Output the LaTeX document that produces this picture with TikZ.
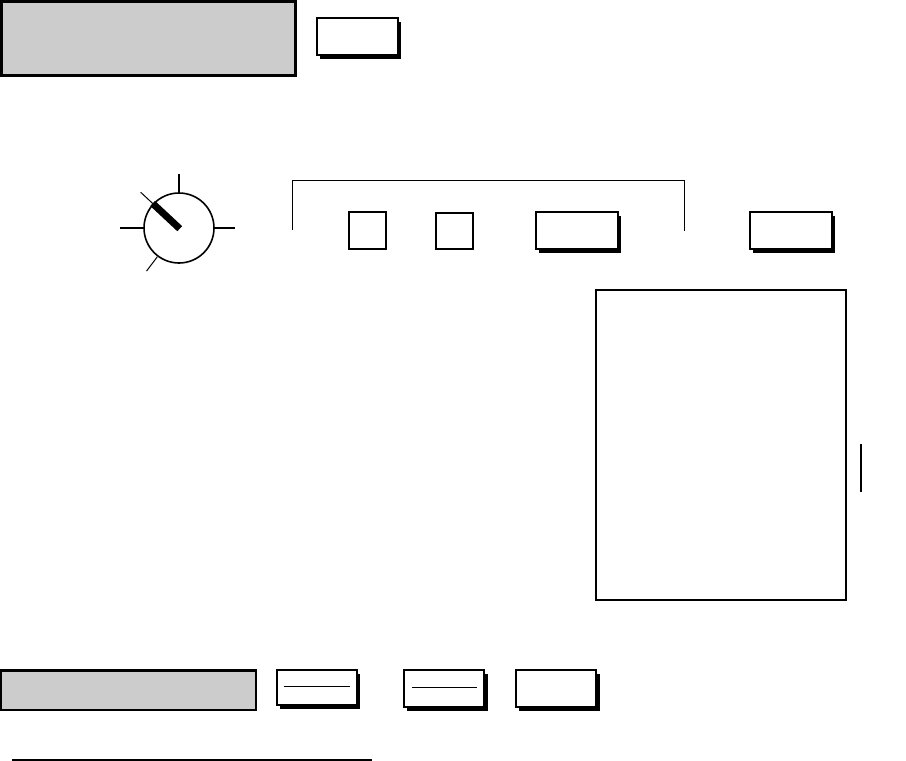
\documentclass[tikz,border=0pt]{standalone}
\usetikzlibrary{shadows,calc}
\definecolor{panelgray}{HTML}{CCCCCC}
\begin{document}
\begin{tikzpicture}[x=1pt,y=-1pt,
  graybox/.style={draw=black,fill=panelgray,line width=2.5pt,inner sep=0pt},
  plainbox/.style={draw=black,fill=white,line width=2pt,inner sep=0pt},
  shadowbox/.style={plainbox,drop shadow={shadow xshift=3.2pt,shadow yshift=-3.8pt,fill=black,opacity=1}},
  tick/.style={line width=2pt},
  thintick/.style={line width=1pt},
  frameline/.style={line width=1.2pt}]
\useasboundingbox (0,0) rectangle (906,761);
% top row
\node[graybox,line width=3pt,minimum width=294pt,minimum height=74pt] (topgray) at (148.5,38.5) {};
\node[shadowbox,minimum width=81pt,minimum height=37pt] (topbtn) at (357.5,36.5) {};
% dial
\node[circle,draw=black,line width=1.6pt,fill=white,minimum size=70pt,inner sep=0pt] (dial) at (179,228) {};
\draw[tick] ($(dial.center)+(90:35.5pt)$) -- ($(dial.center)+(90:54pt)$);
\draw[tick] ($(dial.center)+(180:35.5pt)$) -- ($(dial.center)+(180:59pt)$);
\draw[tick] ($(dial.center)+(0:35.5pt)$) -- ($(dial.center)+(0:56pt)$);
\draw[thintick] ($(dial.center)+(233:36pt)$) -- ($(dial.center)+(233:54pt)$);
\draw[thintick] ($(dial.center)+(137:35pt)$) -- ($(dial.center)+(137:52.5pt)$);
\draw[line width=7pt] ($(dial.center)+(137:-1pt)$) -- ($(dial.center)+(137:36pt)$);
% bracket
\coordinate (brL) at (292.5,230);
\coordinate (brR) at (684.5,231);
\draw[frameline] (brL) -- (292.5,180.5) -- (684.5,180.5) -- (brR);
% buttons in bracket
\node[plainbox,minimum width=37pt,minimum height=37pt] (sq1) at (367.5,230.5) {};
\node[plainbox,minimum width=37pt,minimum height=36pt] (sq2) at (454.5,231) {};
\node[shadowbox,minimum width=82.5pt,minimum height=37pt] (btn3) at (577,230.5) {};
\node[shadowbox,minimum width=82pt,minimum height=37pt] (btn4) at (790.5,230.7) {};
% big panel
\node[plainbox,minimum width=250.3pt,minimum height=310pt] (panel) at (720.85,445) {};
\coordinate (vtop) at (861,444);
\coordinate (vbot) at (861,492);
\draw[tick] (vtop) -- (vbot);
% bottom row
\node[graybox,minimum width=254.8pt,minimum height=39.3pt] (botgray) at (128.6,690.2) {};
\node[shadowbox,minimum width=80pt,minimum height=34.7pt] (btnA) at (316.7,687.7) {};
\node[shadowbox,minimum width=80.6pt,minimum height=36.4pt] (btnB) at (444,688.5) {};
\node[shadowbox,minimum width=80.6pt,minimum height=36.4pt] (btnC) at (556,688.5) {};
\draw[thintick] (283.7,686.7) -- (349.7,686.7);
\draw[thintick] (412.3,687) -- (476.7,687);
\draw[line width=1.3pt] (12.3,760) -- (371.7,760);
\end{tikzpicture}
\end{document}
